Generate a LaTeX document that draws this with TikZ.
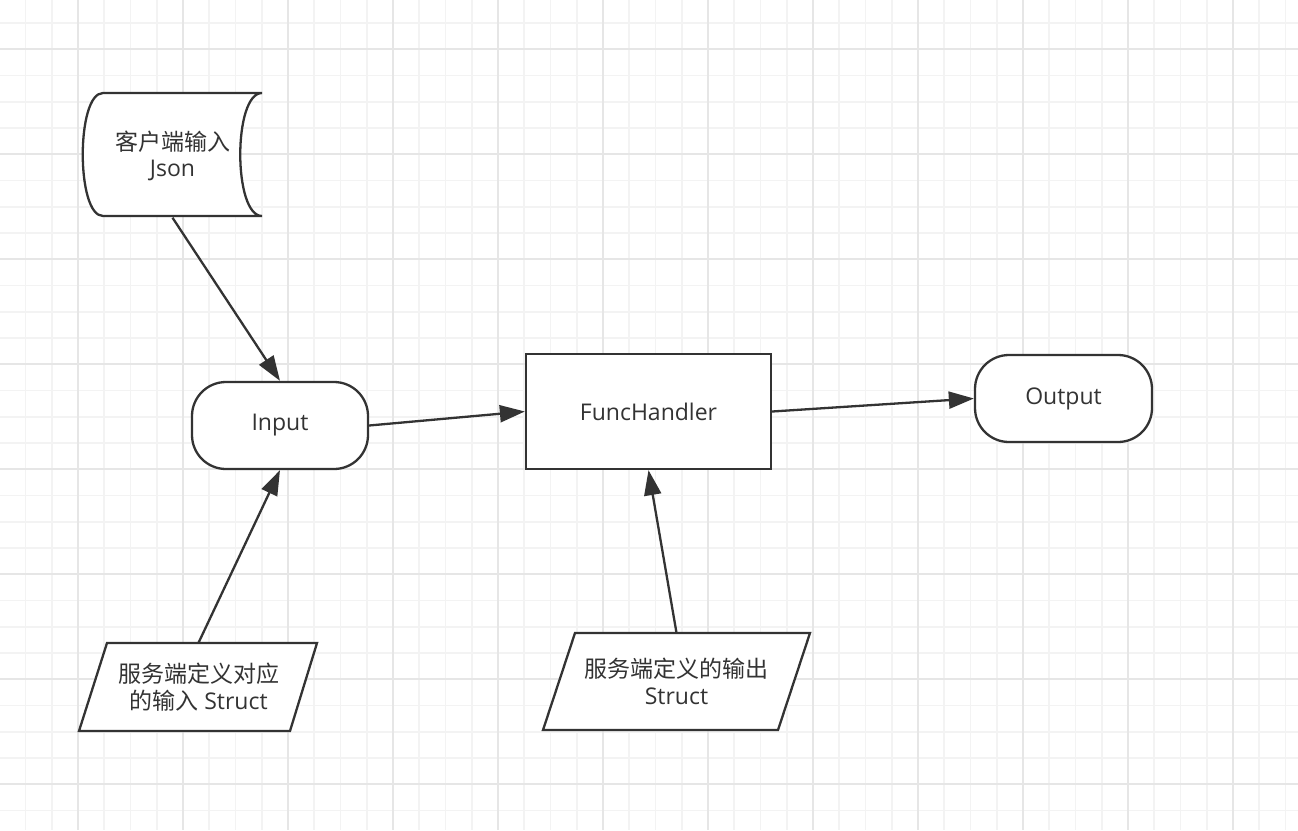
\documentclass[tikz,border=0pt]{standalone}
\usepackage{fontspec}
\setmainfont{Open Sans}
\newfontfamily\cjk{Noto Sans CJK SC}
\usetikzlibrary{arrows.meta}
\definecolor{ink}{HTML}{333333}
\definecolor{gridminor}{HTML}{F3F3F3}
\definecolor{gridmajor}{HTML}{E6E6E6}
\begin{document}
\begin{tikzpicture}[x=1pt,y=-1pt,
  minorline/.style={gridminor,line width=1.6pt},
  majorline/.style={gridmajor,line width=1.8pt},
  shapeline/.style={draw=ink,line width=2.3pt,fill=white},
  label/.style={text=ink,font=\fontsize{23}{26.5}\selectfont,align=center,inner sep=0pt},
  term/.style={shapeline,label,rounded corners=34pt},
  proc/.style={shapeline,label},
  freenode/.style={label,draw=none,fill=none},
  arr/.style={draw=ink,line width=2.3pt,-{Triangle[length=25pt,width=17pt]}}]
\useasboundingbox (0,0) rectangle (1298,830);
\fill[white] (0,0) rectangle (1298,830);
% grid
\foreach \i in {0,...,49} {\draw[minorline] ({-0.75+26.25*\i},0) -- ++(0,830);}
\foreach \j in {0,...,32} {\draw[minorline] (0,{-3.2+26.25*\j}) -- ++(1298,0);}
\foreach \i in {0,...,11} {\draw[majorline] ({78+105*\i},0) -- ++(0,830);}
\foreach \j in {0,...,7} {\draw[majorline] (0,{49.3+105*\j}) -- ++(1298,0);}
% stored data shape
\path[shapeline] (103,93) -- (262,93) .. controls (233,93) and (233,216) .. (262,216)
  -- (103,216) .. controls (76,216) and (76,93) .. (103,93) -- cycle;
\node[freenode,minimum width=179pt,minimum height=123pt] (json) at (172.5,156) {{\cjk 客户端输入}\\Json};
% parallelograms
\path[shapeline] (107,643) -- (317,643) -- (290,731) -- (79,731) -- cycle;
\node[freenode,minimum width=211pt,minimum height=88pt] (p1) at (198.5,687) {{\cjk 服务端定义对应}\\{\cjk 的输入} Struct};
\path[shapeline] (575,633) -- (810,633) -- (778,730) -- (543,730) -- cycle;
\node[freenode,minimum width=235pt,minimum height=97pt] (p2) at (676.5,681.5) {{\cjk 服务端定义的输出}\\Struct};
% main nodes
\node[term,minimum width=176pt,minimum height=87pt] (input) at (280,425.5) {Input};
\node[proc,minimum width=245pt,minimum height=115pt] (func) at (648.5,411.5) {FuncHandler};
\node[term,minimum width=177pt,minimum height=87pt] (out) at (1063.5,398.5) {Output};
% connectors
\draw[arr] (json.south) -- (input.north);
\draw[arr] (p1.north) -- (input.south);
\draw[arr] (input.east) -- (func.west);
\draw[arr] (p2.north) -- (func.south);
\draw[arr] (func.east) -- (out.west);
\end{tikzpicture}
\end{document}
